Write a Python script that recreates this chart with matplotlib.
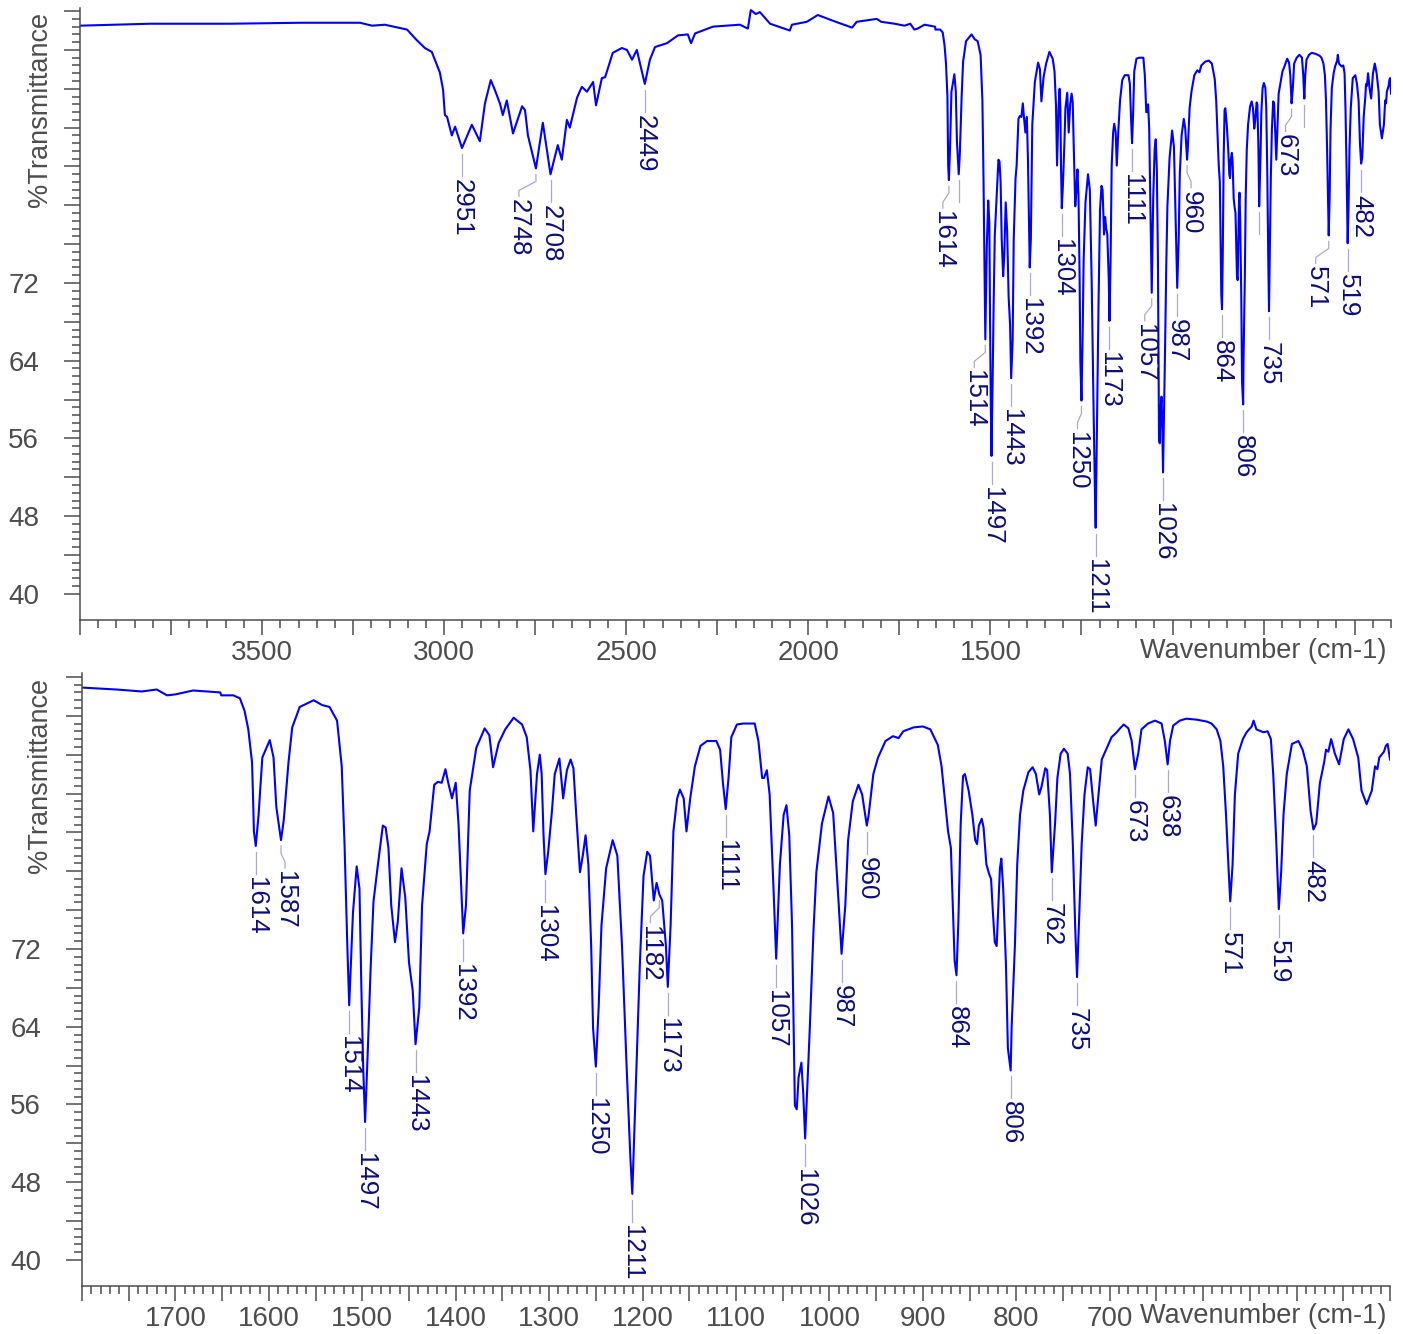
import matplotlib
matplotlib.use('Agg')
import matplotlib.pyplot as plt
from matplotlib.ticker import MultipleLocator, FixedLocator, FuncFormatter
import numpy as np

plt.rcParams.update({
    'font.family': ['Liberation Sans', 'DejaVu Sans'],
    'axes.unicode_minus': False,
})

W, H = 1403, 1334

# high-wavenumber part (cm-1, %T)
HIGH_WN = [4000, 3808, 3588, 3396, 3231, 3198, 3163, 3102, 3075, 3053, 3034, 3012,
           3003, 2998, 2992, 2979, 2970, 2951, 2924, 2902, 2888, 2872, 2861, 2847,
           2839, 2828, 2811, 2786, 2778, 2770, 2748, 2729, 2708, 2688, 2677, 2663,
           2655, 2635, 2622, 2608, 2591, 2583, 2567, 2558, 2537, 2512, 2498, 2484,
           2471, 2449, 2435, 2421, 2388, 2358, 2331, 2322, 2311, 2262, 2188, 2166,
           2158, 2144, 2133, 2105, 2051, 2045, 2004, 1974, 1932, 1880, 1867, 1812]
HIGH_T = [98.5, 98.7, 98.7, 98.8, 98.8, 98.5, 98.6, 98.1, 97.0, 96.2, 95.8, 93.7,
          91.9, 89.3, 89.1, 87.2, 88.1, 85.9, 88.3, 86.6, 90.5, 92.9, 91.9, 90.5,
          89.3, 90.8, 87.4, 90.2, 89.8, 87.2, 83.8, 88.5, 83.2, 86.2, 84.7, 88.8,
          88.0, 91.1, 92.2, 91.7, 92.7, 90.3, 93.1, 93.2, 95.7, 96.2, 96.0, 95.0,
          96.0, 92.5, 95.0, 96.3, 96.7, 97.5, 97.6, 96.7, 97.7, 98.4, 98.6, 98.2,
          100.1, 99.7, 99.9, 98.7, 98.0, 98.6, 98.9, 99.6, 99.0, 98.3, 98.9, 99.2]

LOW_WN = [1800, 1763, 1736, 1720, 1709, 1700, 1681, 1652, 1651, 1638, 1631, 1626,
          1622, 1618, 1617, 1616, 1614, 1611, 1607, 1599, 1595, 1592, 1587, 1584,
          1579, 1575, 1567, 1552, 1543, 1535, 1527, 1522, 1519, 1516, 1514, 1510,
          1506, 1503, 1501, 1499, 1497, 1494, 1491, 1488, 1483, 1478, 1475, 1472,
          1469, 1465, 1462, 1458, 1454, 1450, 1446, 1443, 1439, 1436, 1431, 1428,
          1423, 1419, 1415, 1411, 1408, 1404, 1400, 1397, 1394, 1392, 1389, 1385,
          1378, 1369, 1364, 1360, 1354, 1347, 1338, 1329, 1324, 1320, 1317, 1313,
          1310, 1308, 1306, 1304, 1301, 1297, 1294, 1289, 1285, 1281, 1277, 1274,
          1271, 1267, 1264, 1261, 1258, 1255, 1253, 1250, 1247, 1244, 1239, 1232,
          1227, 1222, 1217, 1213, 1211, 1208, 1203, 1199, 1195, 1192, 1188, 1185,
          1182, 1179, 1175, 1173, 1170, 1167, 1163, 1160, 1156, 1153, 1149, 1144,
          1138, 1131, 1121, 1117, 1114, 1111, 1108, 1105, 1099, 1092, 1080, 1076,
          1072, 1070, 1067, 1064, 1060, 1057, 1053, 1049, 1046, 1043, 1040, 1037,
          1035, 1033, 1030, 1028, 1026, 1021, 1017, 1014, 1008, 1001, 996, 990,
          987, 983, 980, 975, 969, 965, 960, 958, 953, 948, 940, 932,
          926, 921, 910, 900, 892, 884, 880, 876, 873, 870, 868, 866,
          864, 862, 859.5, 857, 855, 851, 847, 844, 842, 840, 837, 835,
          832, 829, 827, 825, 823, 821, 819, 817.5, 816, 814, 811, 809,
          806, 805, 801.5, 799, 796, 792.5, 787, 782.5, 779, 775.5, 773, 769,
          767, 764, 762, 758.5, 756, 752.5, 749, 745, 742.5, 739.5, 737, 735,
          733, 730, 727, 723.5, 721, 718, 715, 712, 708.5, 703, 698, 692.5,
          689, 685, 680, 676.5, 673, 669.5, 666, 659, 651.5, 644.5, 641, 638,
          635.5, 632, 625, 618, 607, 596, 591, 585.5, 581.5, 578.5, 575.5, 573,
          571, 568.5, 566, 562.5, 557.5, 553.5, 548, 546, 543, 535.5, 531, 527.5,
          525, 522, 520, 519, 516.5, 514, 510.5, 505, 498, 493.5, 489, 485,
          482, 479, 475, 470.5, 468.5, 466, 463, 459, 454.5, 449.5, 444.5, 439.5,
          434, 430.5, 425, 419.5, 416, 413.5, 411.5, 409, 406.5, 404.5, 402.5, 400]
LOW_T = [98.9, 98.7, 98.5, 98.7, 98.1, 98.2, 98.6, 98.4, 98.1, 98.1, 97.8, 96.5,
         94.6, 91.2, 87.9, 84.1, 82.6, 85.8, 91.7, 93.5, 91.7, 86.6, 83.2, 85.3,
         91.2, 94.8, 96.9, 97.6, 97.1, 96.9, 95.5, 90.8, 82.8, 72.3, 66.2, 75.7,
         80.5, 78.2, 68.1, 59.7, 54.2, 61.8, 70.2, 76.9, 80.9, 84.7, 84.5, 82.4,
         76.5, 72.7, 74.8, 80.3, 77.3, 70.6, 67.7, 62.2, 66.0, 76.5, 82.8, 84.1,
         88.9, 89.2, 89.1, 90.5, 89.1, 87.5, 89.1, 84.9, 78.2, 73.6, 76.5, 88.3,
         92.7, 94.7, 94.0, 90.7, 93.2, 94.6, 95.8, 95.1, 93.8, 90.4, 84.1, 90.0,
         92.0, 90.0, 83.7, 79.7, 82.0, 86.2, 90.0, 91.6, 87.5, 90.4, 91.5, 90.6,
         85.8, 79.9, 81.6, 83.7, 80.7, 72.3, 63.9, 59.9, 66.0, 74.4, 80.3, 83.2,
         81.6, 72.3, 59.7, 50.4, 46.8, 55.5, 70.2, 79.5, 82.0, 81.6, 77.0, 78.8,
         77.6, 77.0, 72.3, 68.1, 74.4, 84.1, 87.5, 88.4, 87.5, 84.1, 87.5, 90.8,
         92.9, 93.4, 93.4, 92.5, 89.1, 86.4, 89.6, 93.8, 95.1, 95.2, 95.2, 93.4,
         89.6, 89.6, 90.4, 87.9, 78.6, 71.0, 80.7, 85.8, 86.8, 83.7, 74.4, 55.9,
         55.5, 58.8, 60.3, 57.1, 52.5, 63.9, 74.0, 79.9, 84.9, 87.7, 86.0, 76.5,
         71.5, 76.5, 83.2, 87.2, 88.9, 87.9, 84.7, 85.8, 90.0, 91.7, 93.4, 93.9,
         93.7, 94.4, 94.8, 94.9, 94.6, 93.0, 90.8, 87.0, 84.1, 82.4, 76.5, 70.8,
         69.3, 74.8, 84.9, 89.8, 90.0, 88.3, 85.8, 83.2, 82.8, 84.7, 85.4, 84.5,
         80.7, 79.7, 79.2, 75.7, 72.7, 72.3, 76.9, 80.3, 81.3, 78.2, 70.2, 61.8,
         59.5, 63.9, 72.3, 80.7, 85.8, 88.3, 90.2, 90.7, 90.0, 87.9, 88.7, 90.6,
         90.4, 85.8, 79.9, 84.9, 89.6, 92.1, 92.6, 92.1, 90.0, 82.8, 74.4, 69.1,
         74.4, 82.8, 87.9, 90.7, 90.5, 87.5, 84.7, 87.9, 91.5, 92.7, 93.8, 94.3,
         94.7, 95.1, 94.7, 93.4, 90.5, 92.1, 94.6, 95.2, 95.5, 95.2, 93.4, 91.0,
         93.4, 95.0, 95.5, 95.7, 95.6, 95.4, 95.2, 94.6, 93.4, 90.8, 85.8, 80.7,
         76.9, 80.7, 87.9, 92.1, 93.6, 94.3, 94.9, 95.5, 94.6, 94.3, 94.4, 93.6,
         90.0, 83.7, 78.6, 76.1, 79.9, 85.8, 90.0, 93.1, 93.4, 92.5, 90.8, 86.2,
         84.3, 84.9, 89.1, 91.2, 92.5, 92.3, 93.6, 92.1, 91.0, 93.6, 94.6, 93.6,
         91.7, 88.3, 86.9, 88.3, 90.8, 90.5, 91.7, 92.0, 92.3, 92.9, 93.1, 91.5]

# peak picks shown in each panel
TOP_PEAKS = [2951, 2748, 2708, 2449, 1614, 1514, 1497, 1443, 1392, 1304, 1250,
             1211, 1173, 1111, 1057, 1026, 987, 960, 864, 806, 735, 673, 571,
             519, 482]
TOP_HIDDEN = [1587, 762, 638]   # leader drawn, label suppressed
BOTTOM_PEAKS = [1614, 1587, 1514, 1497, 1443, 1392, 1304, 1250, 1211, 1182,
                1173, 1111, 1057, 1026, 987, 960, 864, 806, 762, 735, 673, 638,
                571, 519, 482]

TOP_XLABELS = [3500, 3000, 2500, 2000, 1500]
BOTTOM_XLABELS = [1700, 1600, 1500, 1400, 1300, 1200, 1100, 1000, 900, 800, 700]
Y_LABELS = [40, 48, 56, 64, 72]

AXIS_GREY = '#4d4d4d'
LINE_BLUE = '#0000ff'
PEAK_NAVY = '#0c0c80'
LEADER_COL = '#aaaacc'

wn_all = np.array(HIGH_WN + LOW_WN, dtype=float)
t_all = np.array(HIGH_T + LOW_T, dtype=float)


def peak_t(wn):
    i = int(np.argmin(np.abs(wn_all - wn)))
    return t_all[i]


def style_axes(ax, xlim, major, minor, xlabels, ylim):
    ax.plot(wn_all, t_all, color=LINE_BLUE, lw=1.5)
    ax.set_xlim(*xlim)
    ax.set_ylim(*ylim)
    for s in ('top', 'right'):
        ax.spines[s].set_visible(False)
    for s in ('left', 'bottom'):
        ax.spines[s].set_color(AXIS_GREY)
        ax.spines[s].set_linewidth(1.1)

    ax.xaxis.set_major_locator(MultipleLocator(major))
    ax.xaxis.set_minor_locator(MultipleLocator(minor))
    ax.xaxis.set_major_formatter(FuncFormatter(
        lambda v, _: f'{v:.0f}' if round(v) in xlabels else ''))

    yt = np.arange(40, 100.01, 4)
    ym = [v for v in np.arange(40, 100.01, 0.8) if abs((v - 40) / 4 - round((v - 40) / 4)) > 1e-6]
    ax.yaxis.set_major_locator(FixedLocator(yt))
    ax.yaxis.set_minor_locator(FixedLocator(ym))
    ax.yaxis.set_major_formatter(FuncFormatter(
        lambda v, _: f'{v:.0f}' if round(v) in Y_LABELS else ''))

    ax.tick_params(axis='both', which='both', direction='out', colors=AXIS_GREY,
                   labelcolor=AXIS_GREY, labelsize=20, width=1.1)
    ax.tick_params(axis='x', which='major', length=10.8, pad=3.5)
    ax.tick_params(axis='x', which='minor', length=5.8)
    ax.tick_params(axis='y', which='major', length=11.5, pad=18)
    ax.tick_params(axis='y', which='minor', length=5.8)


def label_peaks(ax, labelled, hidden, shifts):
    to_disp = ax.transData.transform
    to_data = ax.transData.inverted().transform
    for wn in list(labelled) + list(hidden):
        X, Y = to_disp((wn, peak_t(wn)))
        dx = shifts.get(wn, 0)
        if dx:
            pts = [(X, Y - 6), (X, Y - 13), (X + dx, Y - 22), (X + dx, Y - 28)]
        else:
            pts = [(X, Y - 6), (X, Y - 28)]
        d = to_data(pts)
        ax.plot(d[:, 0], d[:, 1], color=LEADER_COL, lw=0.9, clip_on=False)
        if wn in labelled:
            tx, ty = to_data((X + dx, Y - 31))
            ax.text(tx, ty, str(wn), rotation=270, ha='center', va='top',
                    fontsize=18.6, color=PEAK_NAVY, clip_on=False)


fig = plt.figure(figsize=(W / 100, H / 100), dpi=100)

ax1 = fig.add_axes([80 / W, 1 - 620 / H, (1391 - 80) / W, (620 - 8) / H])
style_axes(ax1, (4000, 400), 250, 50, TOP_XLABELS, (37.3, 100.32))
label_peaks(ax1, TOP_PEAKS, TOP_HIDDEN,
            {2748: -17, 1614: -6, 1514: -11, 1250: -4, 1057: -7, 960: 4,
             673: -6, 571: -13})

ax2 = fig.add_axes([82 / W, 1 - 1286 / H, (1390 - 82) / W, (1286 - 673) / H])
style_axes(ax2, (1800, 400), 50, 10, BOTTOM_XLABELS, (37.32, 100.4))
label_peaks(ax2, BOTTOM_PEAKS, [], {1587: 4, 1182: -9})

for top, mid in ((12, 651), (678, 1316)):
    fig.text(40 / W, 1 - top / H, '%Transmittance', rotation=90, ha='center',
             va='top', fontsize=19.5, color=AXIS_GREY)
    fig.text(1386 / W, 1 - mid / H, 'Wavenumber (cm-1)', ha='right',
             va='center', fontsize=19.5, color=AXIS_GREY)

fig.savefig('out.png', dpi=100)
